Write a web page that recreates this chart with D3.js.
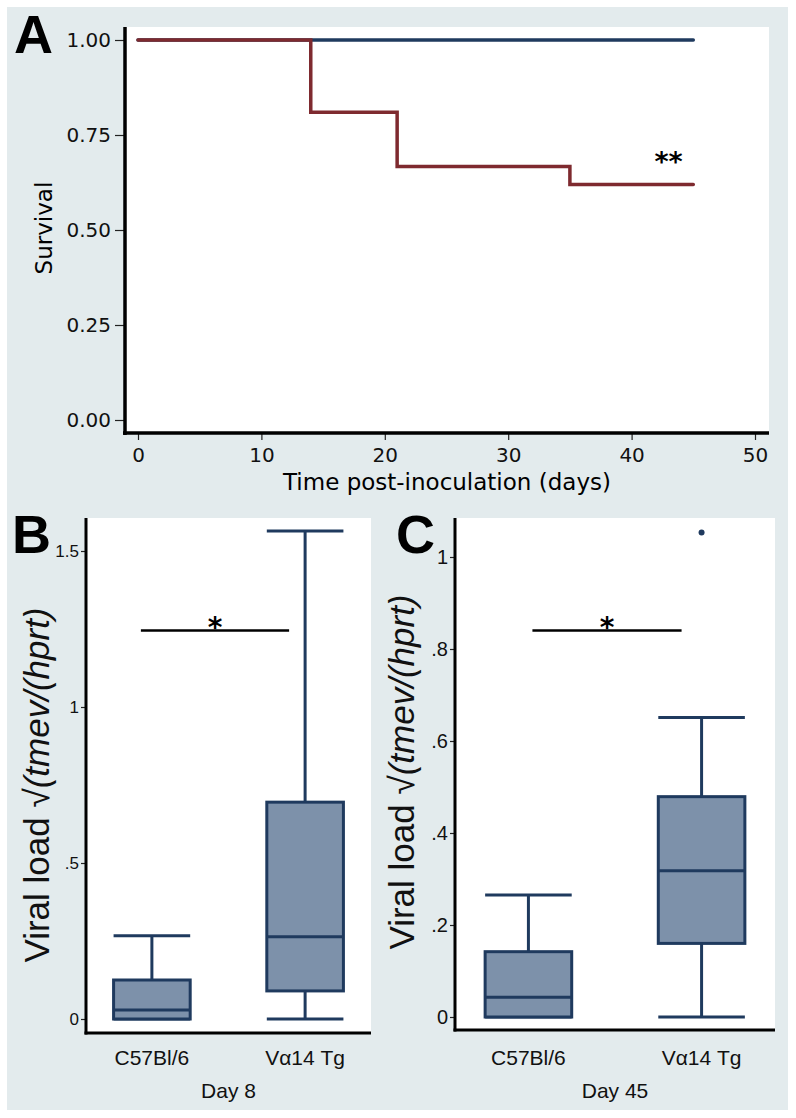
<!DOCTYPE html>
<meta charset="utf-8">
<style>
    body { margin: 0; background: #fff; }
    .axis text { fill: #111; }
    .axis line { stroke: #222; stroke-width: 1.2; }
</style>
<body>
<svg id="fig" width="796" height="1118"></svg>
<script src="https://cdn.jsdelivr.net/npm/d3@7"></script>
<script>

// ---- panel A : survival ----
var survTicksX = [0, 10, 20, 30, 40, 50];
var survTicksY = [0, 0.25, 0.5, 0.75, 1];
var survWT = [[0, 1], [45, 1]];                                         // C57Bl/6
var survTg = [[0, 1], [14, 0.81], [21, 0.667], [35, 0.62], [45, 0.62]]; // Va14 Tg

// ---- panels B and C : viral load boxes ----
var groups = ["C57Bl/6", "V\u03b114 Tg"];
var day8 = [
    { lo: 0, q1: 0, med: 0.029, q3: 0.125, hi: 0.267 },
    { lo: 0, q1: 0.09, med: 0.264, q3: 0.695, hi: 1.564 }
];
var day45 = [
    { lo: 0, q1: 0, med: 0.043, q3: 0.142, hi: 0.265 },
    { lo: 0, q1: 0.16, med: 0.318, q3: 0.479, hi: 0.651 }
];
var day45Outliers = [[1, 1.053]];
var ticks8 = [0, 0.5, 1, 1.5];
var ticks45 = [0, 0.2, 0.4, 0.6, 0.8, 1];
var sig8 = 1.245, sig45 = 0.84;

var bg = "#e3ebed", boxFill = "#7d91aa", navy = "#1f3a5e", red = "#7e2a2f";
var arial = "Liberation Sans, Arial, sans-serif";

var svg = d3.select("#fig");

// background
svg.append("rect").attr("x", 7).attr("y", 7).attr("width", 781).attr("height", 1103).attr("fill", bg);

// ------------- A -------------
var xA = d3.scaleLinear().domain([0, 50]).range([138, 755]);
var yA = d3.scaleLinear().domain([0, 1]).range([420, 40]);

svg.append("rect").attr("x", 125).attr("y", 27).attr("width", 644).attr("height", 406).attr("fill", "#fff");

svg.append("g").attr("class", "axis")
    .attr("transform", "translate(125,0)")
    .call(d3.axisLeft(yA).tickValues(survTicksY).tickFormat(d3.format(".2f")).tickSize(10).tickPadding(4).tickSizeOuter(0))
    .call(function (g) { g.select(".domain").remove(); })
    .selectAll("text").style("font-family", "DejaVu Sans").style("font-size", "20px");

svg.append("g").attr("class", "axis")
    .attr("transform", "translate(0,433)")
    .call(d3.axisBottom(xA).tickValues(survTicksX).tickSize(7).tickPadding(8).tickSizeOuter(0))
    .call(function (g) { g.select(".domain").remove(); })
    .selectAll("text").style("font-family", "DejaVu Sans").style("font-size", "20px");

svg.append("line").attr("x1", 125).attr("x2", 125).attr("y1", 27).attr("y2", 435)
    .attr("stroke", "#000").attr("stroke-width", 3.5);
svg.append("line").attr("x1", 123).attr("x2", 769).attr("y1", 433).attr("y2", 433)
    .attr("stroke", "#000").attr("stroke-width", 3.5);

var stepLine = d3.line()
    .x(function (d) { return xA(d[0]); })
    .y(function (d) { return yA(d[1]); })
    .curve(d3.curveStepAfter);

svg.append("path").datum(survWT).attr("d", stepLine)
    .attr("fill", "none").attr("stroke", navy).attr("stroke-width", 3.5).attr("stroke-linecap", "round");
svg.append("path").datum(survTg).attr("d", stepLine)
    .attr("fill", "none").attr("stroke", red).attr("stroke-width", 3.5).attr("stroke-linecap", "round");

svg.append("text").attr("x", xA(43)).attr("y", yA(0.655))
    .attr("text-anchor", "middle").style("font-family", "DejaVu Sans").style("font-weight", "bold")
    .style("font-size", "27px").text("**");

svg.append("text").attr("x", 52).attr("y", 228).attr("text-anchor", "middle")
    .attr("transform", "rotate(-90,52,228)")
    .style("font-family", "DejaVu Sans").style("font-size", "23px").text("Survival");

svg.append("text").attr("x", 447).attr("y", 490).attr("text-anchor", "middle")
    .style("font-family", "DejaVu Sans").style("font-size", "23px")
    .text("Time post-inoculation (days)");

svg.append("text").attr("x", 14).attr("y", 53).style("font-family", arial)
    .style("font-weight", "bold").style("font-size", "54px").text("A");

// ------------- box panels -------------
function boxPanel(opt) {
    var g = svg.append("g");
    var x = d3.scalePoint().domain(groups).range([opt.left, opt.right]).padding(opt.pad);
    var y = d3.scaleLinear().domain(opt.domain).range([opt.y0, opt.y1]);
    var bw = x.step() * 0.5;

    g.append("rect").attr("x", opt.left).attr("y", opt.top).attr("width", opt.right - opt.left)
        .attr("height", opt.bottom - opt.top).attr("fill", "#fff");

    g.append("g").attr("class", "axis")
        .attr("transform", "translate(" + opt.left + ",0)")
        .call(d3.axisLeft(y).tickValues(opt.ticks).tickSize(5).tickPadding(2).tickSizeOuter(0)
            .tickFormat(function (d) { return d === 0 ? "0" : String(+d.toFixed(2)).replace(/^0\./, "."); }))
        .call(function (a) { a.select(".domain").remove(); })
        .selectAll("text").style("font-family", arial).style("font-size", opt.tickFont + "px");

    g.append("line").attr("x1", opt.left).attr("x2", opt.left).attr("y1", opt.top).attr("y2", opt.bottom + 1.5)
        .attr("stroke", "#000").attr("stroke-width", 3);
    g.append("line").attr("x1", opt.left - 1.5).attr("x2", opt.right).attr("y1", opt.bottom).attr("y2", opt.bottom)
        .attr("stroke", "#000").attr("stroke-width", 3);

    var b = g.selectAll(".box").data(opt.data).enter().append("g")
        .attr("transform", function (d, i) { return "translate(" + x(groups[i]) + ",0)"; });

    b.append("line").attr("y1", function (d) { return y(d.hi); }).attr("y2", function (d) { return y(d.q3); })
        .attr("stroke", navy).attr("stroke-width", 3);
    b.append("line").attr("y1", function (d) { return y(d.lo); }).attr("y2", function (d) { return y(d.q1); })
        .attr("stroke", navy).attr("stroke-width", 3);
    b.append("line").attr("x1", -bw / 2).attr("x2", bw / 2)
        .attr("y1", function (d) { return y(d.hi); }).attr("y2", function (d) { return y(d.hi); })
        .attr("stroke", navy).attr("stroke-width", 3);
    b.append("line").attr("x1", -bw / 2).attr("x2", bw / 2)
        .attr("y1", function (d) { return y(d.lo); }).attr("y2", function (d) { return y(d.lo); })
        .attr("stroke", navy).attr("stroke-width", 3);
    b.append("rect").attr("x", -bw / 2).attr("width", bw)
        .attr("y", function (d) { return y(d.q3); })
        .attr("height", function (d) { return y(d.q1) - y(d.q3); })
        .attr("fill", boxFill).attr("stroke", navy).attr("stroke-width", 3);
    b.append("line").attr("x1", -bw / 2).attr("x2", bw / 2)
        .attr("y1", function (d) { return y(d.med); }).attr("y2", function (d) { return y(d.med); })
        .attr("stroke", navy).attr("stroke-width", 3);

    g.selectAll(".out").data(opt.outliers).enter().append("circle")
        .attr("cx", function (d) { return x(groups[d[0]]); })
        .attr("cy", function (d) { return y(d[1]); })
        .attr("r", 3).attr("fill", navy);

    // significance bar
    var sx1 = x(groups[0]) + opt.sigIn[0], sx2 = x(groups[1]) + opt.sigIn[1];
    g.append("line").attr("x1", sx1).attr("x2", sx2).attr("y1", y(opt.sig)).attr("y2", y(opt.sig))
        .attr("stroke", "#000").attr("stroke-width", 2.5);
    g.append("text").attr("x", (sx1 + sx2) / 2).attr("y", y(opt.sig) + 6).attr("text-anchor", "middle")
        .style("font-family", "DejaVu Sans").style("font-weight", "bold").style("font-size", "28px").text("*");

    g.selectAll(".cat").data(groups).enter().append("text")
        .attr("x", function (d) { return x(d); }).attr("y", 1065).attr("text-anchor", "middle")
        .style("font-family", arial).style("font-size", "21px").style("fill", "#111")
        .text(function (d) { return d; });
    g.append("text").attr("x", (x(groups[0]) + x(groups[1])) / 2).attr("y", 1098).attr("text-anchor", "middle")
        .style("font-family", arial).style("font-size", "21px").style("fill", "#111")
        .text(opt.day);

    var lab = g.append("text").attr("x", opt.labX).attr("y", opt.labY).attr("text-anchor", "middle")
        .attr("transform", "rotate(-90," + opt.labX + "," + opt.labY + ")")
        .style("font-family", arial).style("font-size", "35px").style("fill", "#111");
    lab.append("tspan").text("Viral load \u221a");
    lab.append("tspan").style("font-style", "italic").text("(tmev/(hprt)");

    g.append("text").attr("x", opt.letterX).attr("y", 553).style("font-family", arial)
        .style("font-weight", "bold").style("font-size", "54px").text(opt.letter);
}

boxPanel({ left: 86, right: 371, top: 518, bottom: 1033, pad: 0.43, domain: [0, 1.5], y0: 1019, y1: 551,
    ticks: ticks8, tickFont: 17, data: day8, outliers: [], sig: sig8, sigIn: [-11, -16], day: "Day 8",
    labX: 49, labY: 785, letter: "B", letterX: 12 });
boxPanel({ left: 455, right: 775, top: 518, bottom: 1030, pad: 0.424, domain: [0, 1], y0: 1017, y1: 557,
    ticks: ticks45, tickFont: 20, data: day45, outliers: day45Outliers, sig: sig45, sigIn: [4, -20], day: "Day 45",
    labX: 414, labY: 772, letter: "C", letterX: 396 });

</script>
</body>
